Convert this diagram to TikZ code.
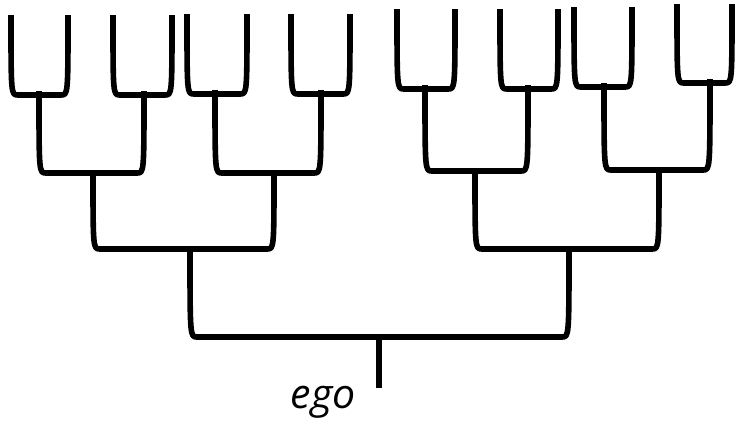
\documentclass[tikz,border=0pt]{standalone}
\usepackage{fontspec}
\setmainfont{Open Sans}
\usetikzlibrary{calc}
\tikzset{kin/.style={line width=5.6pt,line join=round,black},
  egolabel/.style={font=\itshape\fontsize{41}{41}\selectfont,inner sep=0pt}}
\newcommand\famU[3]{%
  \coordinate (tmpb) at (0,#3);
  \draw[kin] (#1) .. controls (#1 |- tmpb) .. ($(#1 |- tmpb)+(7,0)$)
    -- ($(#2 |- tmpb)+(-7,0)$) .. controls (#2 |- tmpb) .. (#2);}
\begin{document}
\begin{tikzpicture}[x=1pt,y=-1pt]
\useasboundingbox (0,0) rectangle (735,421);
% leaf tops
\coordinate (t1a) at (11,15);  \coordinate (t1b) at (68,15);
\coordinate (t2a) at (113,15); \coordinate (t2b) at (172,15);
\coordinate (t3a) at (187,14); \coordinate (t3b) at (247,14);
\coordinate (t4a) at (291,14); \coordinate (t4b) at (350,14);
\coordinate (t5a) at (397,9);  \coordinate (t5b) at (455,9);
\coordinate (t6a) at (500,9);  \coordinate (t6b) at (558,9);
\coordinate (t7a) at (574,7);  \coordinate (t7b) at (632,7);
\coordinate (t8a) at (677,4);  \coordinate (t8b) at (732,4);
% stems (top ends of parent lines)
\coordinate (s1) at (39,91);  \coordinate (s2) at (144,91);
\coordinate (s3) at (215,90); \coordinate (s4) at (321,90);
\coordinate (s5) at (425,85); \coordinate (s6) at (528,85);
\coordinate (s7) at (604,83); \coordinate (s8) at (710,79);
\coordinate (r1) at (93,170);  \coordinate (r2) at (274,170);
\coordinate (r3) at (475,168); \coordinate (r4) at (659,167);
\coordinate (q1) at (190,246); \coordinate (q2) at (569,246);
\coordinate (p0) at (379,334); \coordinate (egoend) at (379,388);
% top level
\famU{t1a}{t1b}{95}
\famU{t2a}{t2b}{95}
\famU{t3a}{t3b}{94}
\famU{t4a}{t4b}{94}
\famU{t5a}{t5b}{89}
\famU{t6a}{t6b}{89}
\famU{t7a}{t7b}{87}
\famU{t8a}{t8b}{83}
% second level
\famU{s1}{s2}{173}
\famU{s3}{s4}{173}
\famU{s5}{s6}{171}
\famU{s7}{s8}{170}
% third level
\famU{r1}{r2}{249}
\famU{r3}{r4}{249}
% first level
\famU{q1}{q2}{337}
\draw[kin] (p0) -- (egoend);
\node[egolabel,anchor=base] (ego) at (323,408) {ego};
\end{tikzpicture}
\end{document}
